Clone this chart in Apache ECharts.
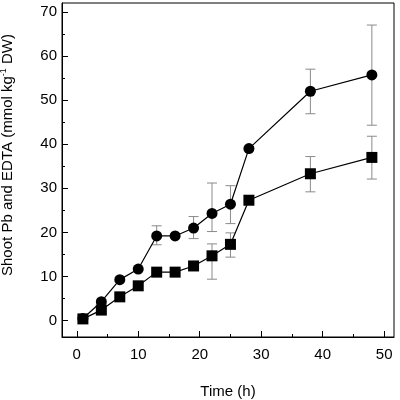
<!DOCTYPE html>
<html><head><meta charset="utf-8">
<script src="https://cdn.jsdelivr.net/npm/echarts@6/dist/echarts.min.js"></script>
<style>html,body{margin:0;padding:0;background:#fff}#c{width:400px;height:400px}</style>
</head><body><div id="c"></div>
<script>
var times = [1, 4, 7, 10, 13, 16, 19, 22, 25, 28, 38, 48];
var circleVals = [0.5, 4.3, 9.3, 11.7, 19.2, 19.2, 21.0, 24.3, 26.4, 39.0, 52.0, 55.7];
var squareVals = [0.4, 2.4, 5.4, 7.9, 11.0, 11.0, 12.4, 14.7, 17.3, 27.3, 33.3, 37.0];
var circleLow  = [null, null, null, null, 17.2, null, 18.6, 20.2, 22.0, null, 46.9, 44.3];
var circleHigh = [null, null, null, null, 21.5, null, 23.6, 31.2, 30.6, null, 57.0, 67.0];
var squareLow  = [null, null, null, null, null, null, null, 9.4, 14.4, null, 29.2, 32.1];
var squareHigh = [null, null, null, null, null, null, null, 17.4, 19.9, null, 37.2, 41.8];
var xTicks = [0, 10, 20, 30, 40, 50];
var xMinor = [5, 15, 25, 35, 45];
var yTicks = [0, 10, 20, 30, 40, 50, 60, 70];
var yMinor = [5, 15, 25, 35, 45, 55, 65];

function pts(v){ return times.map(function(t,i){return [t, v[i]];}); }
function errs(lo, hi){
  var out = [];
  times.forEach(function(t,i){ if(lo[i]!=null) out.push([t, lo[i], hi[i]]); });
  return out;
}
function errRender(params, api){
  var x = api.value(0);
  var p1 = api.coord([x, api.value(1)]);
  var p2 = api.coord([x, api.value(2)]);
  var w = 5;
  var st = {stroke:'#8a8a8a', lineWidth:1};
  return {type:'group', children:[
    {type:'line', shape:{x1:p1[0],y1:p1[1],x2:p2[0],y2:p2[1]}, style:st},
    {type:'line', shape:{x1:p1[0]-w,y1:p1[1],x2:p1[0]+w,y2:p1[1]}, style:st},
    {type:'line', shape:{x1:p2[0]-w,y1:p2[1],x2:p2[0]+w,y2:p2[1]}, style:st}
  ]};
}
var font = 'Liberation Sans, Arial, sans-serif';
var xMin = -2.4, xMax = 51.6, yMin = -3.7, yMax = 72;
var chart = echarts.init(document.getElementById('c'), null, {renderer:'canvas'});
chart.setOption({
  animation:false,
  grid:{left:62, right:6, top:3, bottom:63, containLabel:false, outerBoundsMode:'none',
        show:true, borderColor:'#000', borderWidth:1, backgroundColor:'transparent'},
  xAxis:[{
    type:'value', min:xMin, max:xMax,
    name:'Time (h)', nameLocation:'middle', nameGap:47,
    nameTextStyle:{fontFamily:font, fontSize:15, color:'#000'},
    axisLine:{onZero:false, lineStyle:{color:'#000', width:1}},
    axisTick:{inside:true, length:6, customValues:xTicks, lineStyle:{color:'#000'}},
    axisLabel:{customValues:xTicks, fontFamily:font, fontSize:15, color:'#000', margin:10},
    splitLine:{show:false}
  },{
    type:'value', min:xMin, max:xMax, position:'bottom',
    axisLine:{show:false, onZero:false},
    axisTick:{inside:true, length:3, customValues:xMinor, lineStyle:{color:'#000'}},
    axisLabel:{show:false}, splitLine:{show:false}
  }],
  yAxis:[{
    type:'value', min:yMin, max:yMax,
    name:'Shoot Pb and EDTA (mmol kg{sup|-1} DW)', nameLocation:'middle', nameGap:46,
    nameTextStyle:{fontFamily:font, fontSize:15, color:'#000', padding:[0,0,0,30],
      rich:{sup:{fontFamily:font, fontSize:9, color:'#000', padding:[0,0,8,0]}}},
    axisLine:{onZero:false, lineStyle:{color:'#000', width:1}},
    axisTick:{inside:true, length:6, customValues:yTicks, lineStyle:{color:'#000'}},
    axisLabel:{customValues:yTicks, fontFamily:font, fontSize:15, color:'#000', margin:5},
    splitLine:{show:false}
  },{
    type:'value', min:yMin, max:yMax, position:'left',
    axisLine:{show:false, onZero:false},
    axisTick:{inside:true, length:3, customValues:yMinor, lineStyle:{color:'#000'}},
    axisLabel:{show:false}, splitLine:{show:false}
  }],
  series:[
    {type:'custom', renderItem:errRender, data:errs(circleLow, circleHigh), z:1},
    {type:'custom', renderItem:errRender, data:errs(squareLow, squareHigh), z:1},
    {type:'line', data:pts(circleVals), symbol:'circle', symbolSize:11,
     lineStyle:{color:'#000', width:1.2}, itemStyle:{color:'#000'}, z:3},
    {type:'line', data:pts(squareVals), symbol:'rect', symbolSize:11,
     lineStyle:{color:'#000', width:1.2}, itemStyle:{color:'#000'}, z:3}
  ]
});
</script></body></html>
